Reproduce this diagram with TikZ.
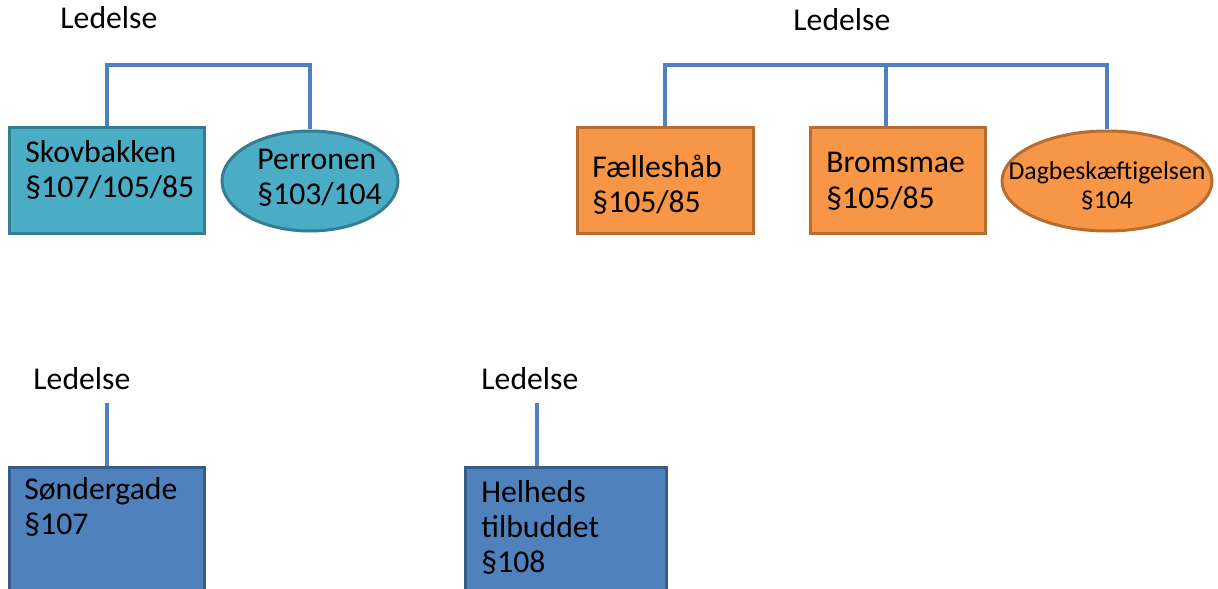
\documentclass[tikz,border=0pt]{standalone}
\usepackage{fontspec}
\setmainfont{Carlito}
\usetikzlibrary{shapes.geometric}

\definecolor{aquafill}{HTML}{4BACC6}
\definecolor{aqualine}{HTML}{357D92}
\definecolor{orangefill}{HTML}{F79646}
\definecolor{orangeline}{HTML}{B66D31}
\definecolor{bluefill}{HTML}{4F81BD}
\definecolor{blueline}{HTML}{385D8A}

\tikzset{
  unit/.style={rectangle,line width=1.5pt,inner sep=0pt},
  unitround/.style={ellipse,line width=1.5pt,inner sep=0pt},
  txt/.style={inner sep=0pt,align=left,font=\fontsize{15.85}{17.5}\selectfont},
  link/.style={draw=bluefill,line width=1.6pt}
}

\begin{document}
\begin{tikzpicture}[x=0.5pt,y=-0.5pt]
\clip (0,0) rectangle (1218,588);

\begin{scope}[link] % lines down from Ledelse
  \coordinate (busL) at (200,65);
  \coordinate (busR) at (886,65);
  \coordinate (topS) at (107,403);
  \coordinate (topH) at (537,403);
\end{scope}

\begin{scope}[every node/.append style={fill=aquafill,draw=aqualine}] % first group
  \node (skov) at (107,180.5) [unit,minimum width=97.5pt,minimum height=52.5pt] {};
  \node (perr) at (310,181) [unitround,minimum width=88pt,minimum height=50pt] {};
\end{scope}

\begin{scope}[every node/.append style={fill=orangefill,draw=orangeline}] % second group
  \node (fael) at (665,180.5) [unit,minimum width=88pt,minimum height=52.5pt] {};
  \node (brom) at (897.5,180.5) [unit,minimum width=87.5pt,minimum height=52.5pt] {};
  \node (dag) at (1107,181) [unitround,minimum width=105pt,minimum height=50pt] {};
\end{scope}

\begin{scope}[every node/.append style={fill=bluefill,draw=blueline}] % single units
  \node (sond) at (106.5,537) [unit,minimum width=97.5pt,minimum height=70pt] {};
  \node (helh) at (565.5,537) [unit,minimum width=100.5pt,minimum height=70pt] {};
\end{scope}

\begin{scope}[link]
  \draw (skov.north) |- (busL) -| (perr.north);
  \draw (fael.north) |- (busR) -| (dag.north);
  \draw (busR) -- (busR |- brom.north);
  \draw (topS) -- (topS |- sond.north);
  \draw (topH) -- (topH |- helh.north);
\end{scope}

\begin{scope}[txt] % Ledelse headings
  \node (led1) at (60,29) [anchor=base west] {Ledelse};
  \node (led2) at (793,31) [anchor=base west] {Ledelse};
  \node (led3) at (33,389) [anchor=base west] {Ledelse};
  \node (led4) at (481,389) [anchor=base west] {Ledelse};
\end{scope}

\begin{scope}[txt] % unit names, placed by their last line
  \node (skov-t) at (25,198) [anchor=base west] {Skovbakken\\§107/105/85};
  \node (perr-t) at (257,205) [anchor=base west] {Perronen\\§103/104};
  \node (fael-t) at (592,213) [anchor=base west] {Fælleshåb\\§105/85};
  \node (brom-t) at (826,208) [anchor=base west] {Bromsmae\\§105/85};
  \node (dag-t) at (1107,208) [anchor=base,align=center,
    font=\fontsize{12.9}{14}\selectfont] {Dagbeskæftigelsen\\§104};
  \node (sond-t) at (24,534) [anchor=base west] {Søndergade\\§107};
  \node (helh-t) at (481,572) [anchor=base west] {Helheds\\tilbuddet\\§108};
\end{scope}

\end{tikzpicture}
\end{document}
